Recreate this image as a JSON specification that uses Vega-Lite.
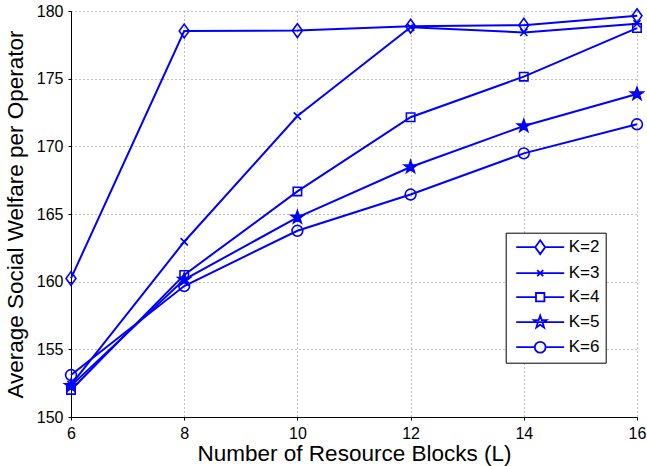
{
  "$schema": "https://vega.github.io/schema/vega-lite/v6.json",
  "width": 566,
  "height": 406,
  "autosize": {"type": "none"},
  "padding": {"left": 71, "top": 11, "right": 10, "bottom": 49},
  "background": "white",
  "config": {
    "view": {"stroke": null},
    "font": "Liberation Sans",
    "axis": {
      "domainColor": "black",
      "domainWidth": 1,
      "tickColor": "black",
      "tickSize": 3,
      "gridColor": "#808080",
      "gridDash": [1, 3],
      "gridWidth": 1,
      "labelFont": "Liberation Sans",
      "labelFontSize": 16,
      "labelColor": "black",
      "titleFont": "Liberation Sans",
      "titleFontSize": 22.5,
      "titleFontWeight": "normal",
      "titleColor": "black"
    }
  },
  "data": {
    "values": [
      {"L": 6, "K": "K=2", "v": 160.24},
      {"L": 8, "K": "K=2", "v": 178.52},
      {"L": 10, "K": "K=2", "v": 178.55},
      {"L": 12, "K": "K=2", "v": 178.88},
      {"L": 14, "K": "K=2", "v": 178.95},
      {"L": 16, "K": "K=2", "v": 179.65},
      {"L": 6, "K": "K=3", "v": 152.38},
      {"L": 8, "K": "K=3", "v": 162.95},
      {"L": 10, "K": "K=3", "v": 172.24},
      {"L": 12, "K": "K=3", "v": 178.8},
      {"L": 14, "K": "K=3", "v": 178.42},
      {"L": 16, "K": "K=3", "v": 179.05},
      {"L": 6, "K": "K=4", "v": 152.0},
      {"L": 8, "K": "K=4", "v": 160.5},
      {"L": 10, "K": "K=4", "v": 166.67},
      {"L": 12, "K": "K=4", "v": 172.15},
      {"L": 14, "K": "K=4", "v": 175.15},
      {"L": 16, "K": "K=4", "v": 178.74},
      {"L": 6, "K": "K=5", "v": 152.3},
      {"L": 8, "K": "K=5", "v": 160.15},
      {"L": 10, "K": "K=5", "v": 164.75},
      {"L": 12, "K": "K=5", "v": 168.47},
      {"L": 14, "K": "K=5", "v": 171.5},
      {"L": 16, "K": "K=5", "v": 173.87},
      {"L": 6, "K": "K=6", "v": 153.1},
      {"L": 8, "K": "K=6", "v": 159.68},
      {"L": 10, "K": "K=6", "v": 163.76},
      {"L": 12, "K": "K=6", "v": 166.44},
      {"L": 14, "K": "K=6", "v": 169.48},
      {"L": 16, "K": "K=6", "v": 171.63}
    ]
  },
  "encoding": {
    "x": {
      "field": "L",
      "type": "quantitative",
      "scale": {"domain": [6, 16], "nice": false, "zero": false},
      "axis": {
        "title": "Number of Resource Blocks (L)",
        "values": [6, 8, 10, 12, 14, 16],
        "labelPadding": 5,
        "titlePadding": 1,
        "labelFlush": false
      }
    },
    "y": {
      "field": "v",
      "type": "quantitative",
      "scale": {"domain": [150, 180], "nice": false, "zero": false},
      "axis": {
        "title": "Average Social Welfare per Operator",
        "values": [150, 155, 160, 165, 170, 175, 180],
        "labelPadding": 5,
        "titlePadding": 9,
        "labelFlush": false
      }
    }
  },
  "layer": [
    {
      "mark": {"type": "line", "color": "#0000ff", "strokeWidth": 2},
      "encoding": {"detail": {"field": "K"}}
    },
    {
      "mark": {"type": "point", "stroke": "#0000ff", "strokeWidth": 1.6, "size": 144, "opacity": 1},
      "encoding": {
        "shape": {
          "field": "K",
          "type": "nominal",
          "scale": {
            "domain": ["K=2", "K=3", "K=4", "K=5", "K=6"],
            "range": [
              "M0,-1.15L0.83,0L0,1.15L-0.83,0Z",
              "M-0.6,-0.6L0.6,0.6M-0.6,0.6L0.6,-0.6",
              "M-0.7,-0.7L0.7,-0.7L0.7,0.7L-0.7,0.7Z",
              "M0,-1.1L0.26,-0.356L1.046,-0.34L0.418,0.136L0.647,0.89L0,0.44L-0.647,0.89L-0.418,0.136L-1.046,-0.34L-0.26,-0.356Z",
              "M0.9,0A0.9,0.9,0,1,1,-0.9,0A0.9,0.9,0,1,1,0.9,0Z"
            ]
          },
          "legend": null
        },
        "fill": {
          "condition": {"test": "datum.K === 'K=5'", "value": "#0000ff"},
          "value": "transparent"
        }
      }
    },
    {
      "mark": {"type": "point", "color": "#0000ff", "filled": false, "strokeWidth": 1.8, "size": 144, "opacity": 0},
      "encoding": {
        "shape": {
          "field": "K",
          "type": "nominal",
          "scale": {
            "domain": ["K=2", "K=3", "K=4", "K=5", "K=6"],
            "range": [
              "M-4,0L-0.83,0M0.83,0L4,0M0,-1.15L0.83,0L0,1.15L-0.83,0Z",
              "M-4,0L4,0M-0.5,-0.5L0.5,0.5M-0.5,0.5L0.5,-0.5",
              "M-4,0L-0.7,0M0.7,0L4,0M-0.7,-0.7L0.7,-0.7L0.7,0.7L-0.7,0.7Z",
              "M-4,0L4,0M0,-1.1L0.26,-0.356L1.046,-0.34L0.418,0.136L0.647,0.89L0,0.44L-0.647,0.89L-0.418,0.136L-1.046,-0.34L-0.26,-0.356Z",
              "M-4,0L-0.9,0M0.9,0L4,0M0.9,0A0.9,0.9,0,1,1,-0.9,0A0.9,0.9,0,1,1,0.9,0Z"
            ]
          },
          "legend": {
            "title": null,
            "orient": "none",
            "legendX": 434.7,
            "legendY": 221.7,
            "direction": "vertical",
            "padding": 6,
            "rowPadding": 6,
            "symbolOffset": 20,
            "labelOffset": 20,
            "labelFontSize": 17,
            "labelFont": "Liberation Sans",
            "labelColor": "black",
            "labelExpr": "datum.label + '\u00a0\u00a0'",
            "symbolSize": 144,
            "symbolStrokeWidth": 1.8,
            "symbolStrokeColor": "#0000ff",
            "symbolOpacity": 1,
            "strokeColor": "black",
            "fillColor": "white",
            "encode": {
              "symbols": {
                "update": {
                  "opacity": {"value": 1},
                  "stroke": {"value": "#0000ff"},
                  "fill": {"signal": "datum.value === 'K=5' ? '#0000ff' : 'transparent'"}
                }
              },
              "legend": {
                "update": {"strokeWidth": {"value": 1}}
              }
            }
          }
        }
      }
    }
  ],
  "resolve": {"scale": {"shape": "independent"}, "legend": {"shape": "independent"}}
}
